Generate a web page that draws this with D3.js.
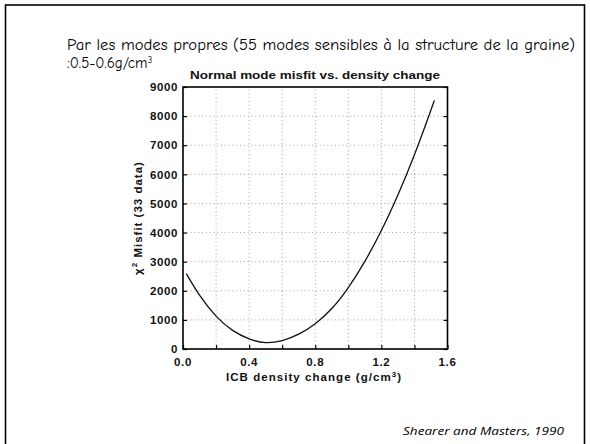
<!DOCTYPE html>
<html>
<head>
<meta charset="utf-8">
<script src="https://cdn.jsdelivr.net/npm/d3@7"></script>
<style>
  html, body { margin: 0; padding: 0; background: #fff; }
  svg { display: block; }
</style>
</head>
<body>
<svg id="chart" width="590" height="444"></svg>
<script>
// ICB density change (g/cm^3) and chi-squared misfit of the normal-mode data
const density = [0.02, 0.1, 0.2, 0.3, 0.4, 0.5, 0.6, 0.7, 0.8, 0.9, 1.0, 1.1, 1.2, 1.3, 1.4, 1.5, 1.52];
const misfit  = [2590, 1850, 1130, 640, 350, 220, 290, 510, 870, 1390, 2110, 3010, 4070, 5290, 6670, 8210, 8540];

const xTickLabels = [0.0, 0.4, 0.8, 1.2, 1.6];
const xGridValues = [0.2, 0.4, 0.6, 0.8, 1.0, 1.2, 1.4];
const yTickLabels = [0, 1000, 2000, 3000, 4000, 5000, 6000, 7000, 8000, 9000];

const headerLines = [
  "Par les modes propres (55 modes sensibles à la structure de la graine)",
  ":0.5-0.6g/cm"
];
const plotTitle = "Normal mode misfit vs. density change";
const xLabel = "ICB density change (g/cm";
const yLabel = " Misfit (33 data)";
const credit = "Shearer and Masters, 1990";

const svg = d3.select("#chart");

// slide frame
svg.append("rect")
  .attr("x", 5.5).attr("y", 5).attr("width", 579).attr("height", 460)
  .attr("fill", "none").attr("stroke", "#000").attr("stroke-width", 1.6);

// slide heading
const headFont = "'Comic Sans MS', 'Comic Neue', 'Noto Sans', sans-serif";
svg.append("text")
  .attr("x", 67).attr("y", 49.5)
  .attr("font-family", headFont).attr("font-size", 15)
  .attr("textLength", 508).attr("lengthAdjust", "spacingAndGlyphs")
  .text(headerLines[0]);
const h2 = svg.append("text")
  .attr("x", 67).attr("y", 68)
  .attr("font-family", headFont).attr("font-size", 15);
h2.append("tspan").text(headerLines[1]);
h2.append("tspan").attr("font-size", 9.5).attr("dy", -5).text("3");

// plot area
const x0 = 183, x1 = 447.5, y0 = 349, y1 = 87;
const x = d3.scaleLinear().domain([0, 1.6]).range([x0, x1]);
const y = d3.scaleLinear().domain([0, 9000]).range([y0, y1]);

const plotFont = "'Liberation Sans', Arial, sans-serif";

// dotted grid
const grid = svg.append("g").attr("stroke", "#999").attr("stroke-width", 0.9)
  .attr("stroke-dasharray", "1,2.8");
grid.selectAll("line.v").data(xGridValues).join("line")
  .attr("x1", d => x(d)).attr("x2", d => x(d))
  .attr("y1", y0).attr("y2", y1);
grid.selectAll("line.h").data(yTickLabels.slice(1, -1)).join("line")
  .attr("x1", x0).attr("x2", x1)
  .attr("y1", d => y(d)).attr("y2", d => y(d));

// axes with inward ticks
const xAxis = d3.axisBottom(x).tickValues(xGridValues.concat([0, 1.6]))
  .tickSize(-4).tickFormat("");
svg.append("g").attr("transform", `translate(0,${y0})`).call(xAxis)
  .call(g => g.select(".domain").remove())
  .selectAll("line").attr("stroke", "#000").attr("stroke-width", 1.2);

const yAxis = d3.axisLeft(y).tickValues(yTickLabels).tickSize(-4).tickFormat("");
svg.append("g").attr("transform", `translate(${x0},0)`).call(yAxis)
  .call(g => g.select(".domain").remove())
  .selectAll("line").attr("stroke", "#000").attr("stroke-width", 1.2);

const yAxisR = d3.axisRight(y).tickValues(yTickLabels).tickSize(-4).tickFormat("");
svg.append("g").attr("transform", `translate(${x1},0)`).call(yAxisR)
  .call(g => g.select(".domain").remove())
  .selectAll("line").attr("stroke", "#000").attr("stroke-width", 1.2);

// frame of the plot
svg.append("rect")
  .attr("x", x0).attr("y", y1).attr("width", x1 - x0).attr("height", y0 - y1)
  .attr("fill", "none").attr("stroke", "#000").attr("stroke-width", 1.6);

// tick labels
svg.append("g").selectAll("text").data(xTickLabels).join("text")
  .attr("x", d => x(d)).attr("y", 366)
  .attr("text-anchor", "middle")
  .attr("font-family", plotFont).attr("font-weight", "bold").attr("font-size", 11.5)
  .attr("letter-spacing", 0.6)
  .attr("fill", "#111")
  .text(d => d3.format(".1f")(d));

svg.append("g").selectAll("text").data(yTickLabels).join("text")
  .attr("x", 178).attr("y", d => y(d) + 4.2)
  .attr("text-anchor", "end")
  .attr("font-family", plotFont).attr("font-weight", "bold").attr("font-size", 11.5)
  .attr("letter-spacing", 0.6)
  .attr("fill", "#111")
  .text(d => d);

// titles
svg.append("text")
  .attr("x", 190).attr("y", 79)
  .attr("font-family", plotFont).attr("font-weight", "bold").attr("font-size", 11.5)
  .attr("textLength", 250).attr("lengthAdjust", "spacingAndGlyphs")
  .attr("fill", "#111")
  .text(plotTitle);

const xl = svg.append("text")
  .attr("x", 226).attr("y", 381)
  .attr("font-family", plotFont).attr("font-weight", "bold").attr("font-size", 11.5)
  .attr("letter-spacing", 1.05)
  .attr("fill", "#111");
xl.append("tspan").text(xLabel);
xl.append("tspan").attr("font-size", 8).attr("dy", -4).text("3");
xl.append("tspan").attr("dy", 4).text(")");

const yl = svg.append("text")
  .attr("transform", "translate(142,218) rotate(-90)")
  .attr("text-anchor", "middle")
  .attr("font-family", plotFont).attr("font-weight", "bold").attr("font-size", 11.5)
  .attr("letter-spacing", 1)
  .attr("fill", "#111");
yl.append("tspan").text("χ");
yl.append("tspan").attr("font-size", 8).attr("dy", -5).text("2");
yl.append("tspan").attr("dy", 5).text(yLabel);

// misfit curve
const pts = density.map((d, i) => [d, misfit[i]]);
const line = d3.line().x(d => x(d[0])).y(d => y(d[1])).curve(d3.curveNatural);
svg.append("path").datum(pts)
  .attr("d", line)
  .attr("fill", "none").attr("stroke", "#111").attr("stroke-width", 1.3);

// credit
svg.append("text")
  .attr("x", 403).attr("y", 435)
  .attr("font-family", "'Open Sans', 'Liberation Sans', sans-serif")
  .attr("font-style", "italic").attr("font-size", 11.5)
  .attr("textLength", 161).attr("lengthAdjust", "spacingAndGlyphs")
  .text(credit);
</script>
</body>
</html>
